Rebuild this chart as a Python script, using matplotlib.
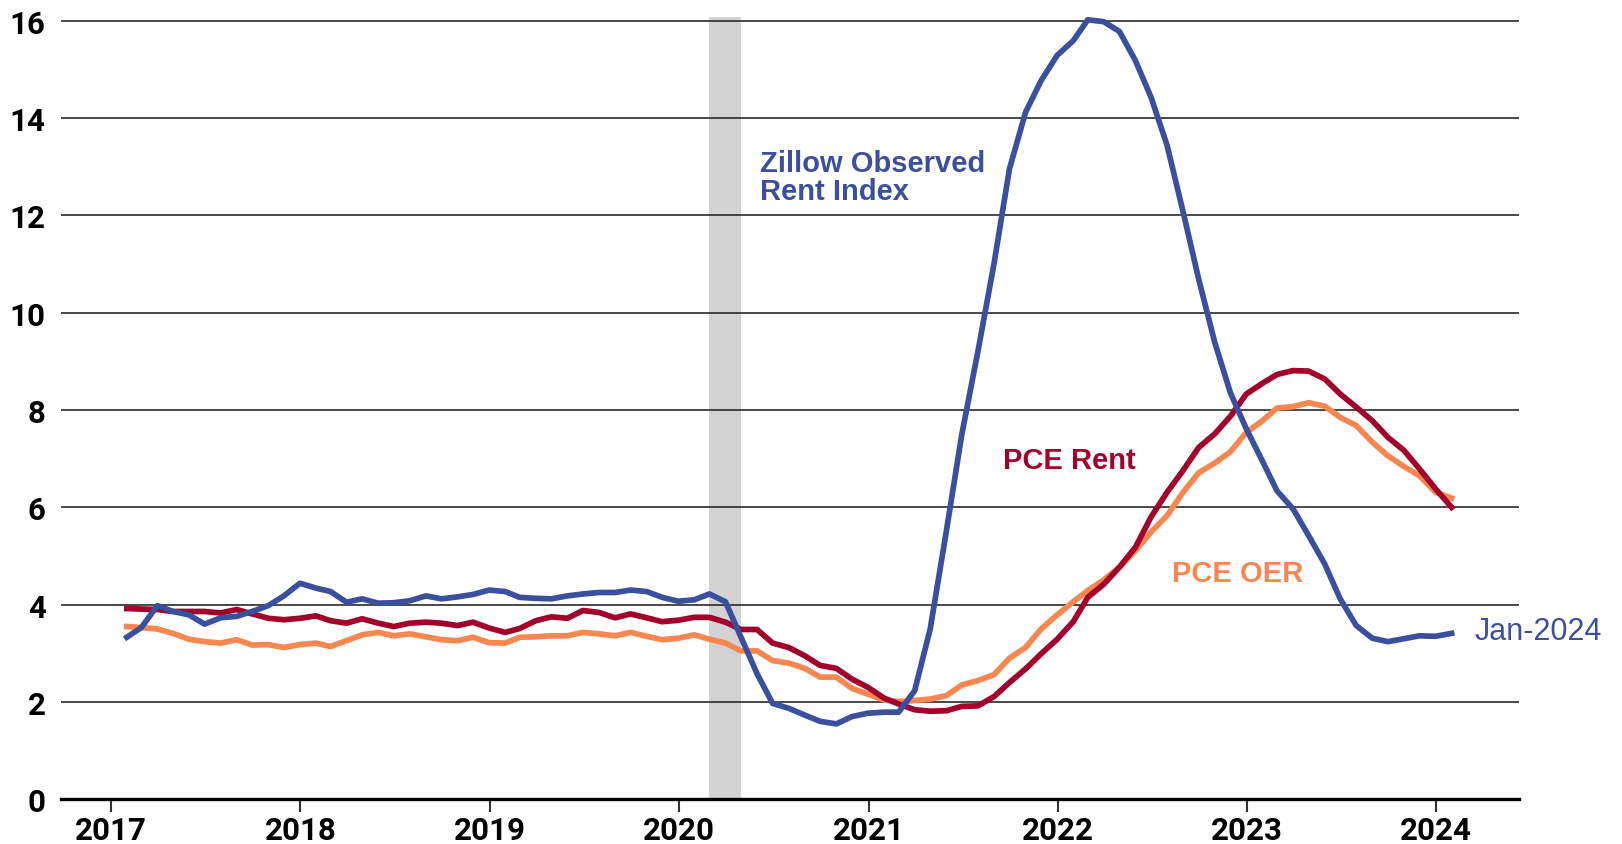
import matplotlib
matplotlib.use('Agg')
import matplotlib.pyplot as plt
import matplotlib.dates as mdates
import pandas as pd

# monthly year-over-year % change, Jan 2017 .. Jan 2024
months = pd.date_range('2017-01-31', '2024-01-31', freq='ME')

zillow = [3.33, 3.53, 3.98, 3.86, 3.79, 3.60, 3.73, 3.76, 3.86, 3.98, 4.18, 4.44,
          4.34, 4.27, 4.05, 4.12, 4.03, 4.04, 4.08, 4.18, 4.12, 4.16, 4.21, 4.30,
          4.27, 4.15, 4.13, 4.12, 4.18, 4.22, 4.25, 4.25, 4.30, 4.27, 4.15, 4.07,
          4.10, 4.22, 4.06, 3.33, 2.58, 1.97, 1.87, 1.73, 1.60, 1.55, 1.70, 1.77,
          1.79, 1.79, 2.23, 3.50, 5.50, 7.50, 9.20, 11.00, 12.96, 14.12, 14.77, 15.29,
          15.59, 16.02, 15.98, 15.78, 15.18, 14.43, 13.44, 12.07, 10.69, 9.39, 8.36, 7.61,
          6.95, 6.34, 5.97, 5.42, 4.84, 4.12, 3.57, 3.31, 3.24, 3.30, 3.36, 3.35,
          3.41]

pce_rent = [3.92, 3.91, 3.90, 3.86, 3.86, 3.86, 3.83, 3.90, 3.81, 3.72, 3.69, 3.72,
            3.77, 3.67, 3.62, 3.71, 3.62, 3.55, 3.62, 3.64, 3.62, 3.57, 3.64, 3.52,
            3.43, 3.51, 3.67, 3.75, 3.72, 3.88, 3.84, 3.73, 3.81, 3.73, 3.65, 3.68,
            3.74, 3.74, 3.64, 3.49, 3.49, 3.21, 3.12, 2.95, 2.75, 2.69, 2.47, 2.30,
            2.08, 1.96, 1.84, 1.81, 1.82, 1.91, 1.92, 2.11, 2.40, 2.68, 2.99, 3.29,
            3.65, 4.15, 4.42, 4.77, 5.18, 5.80, 6.31, 6.76, 7.23, 7.51, 7.87, 8.33,
            8.55, 8.73, 8.81, 8.80, 8.64, 8.33, 8.06, 7.78, 7.44, 7.17, 6.79, 6.38,
            6.00]

pce_oer = [3.55, 3.53, 3.50, 3.41, 3.29, 3.24, 3.21, 3.28, 3.17, 3.18, 3.12, 3.18,
           3.21, 3.14, 3.26, 3.38, 3.43, 3.36, 3.40, 3.34, 3.28, 3.26, 3.33, 3.22,
           3.21, 3.33, 3.34, 3.36, 3.36, 3.43, 3.40, 3.36, 3.43, 3.35, 3.28, 3.31,
           3.38, 3.29, 3.21, 3.05, 3.05, 2.85, 2.80, 2.69, 2.51, 2.51, 2.28, 2.16,
           2.04, 2.01, 2.03, 2.06, 2.13, 2.35, 2.44, 2.56, 2.90, 3.12, 3.50, 3.79,
           4.06, 4.29, 4.51, 4.77, 5.11, 5.49, 5.83, 6.31, 6.71, 6.91, 7.14, 7.54,
           7.78, 8.04, 8.07, 8.15, 8.08, 7.85, 7.68, 7.34, 7.06, 6.84, 6.65, 6.31,
           6.19]

recession = (pd.Timestamp('2020-02-29'), pd.Timestamp('2020-04-30'))

BLUE = '#3a4f9e'
RED = '#a3002a'
ORANGE = '#f7864f'

fig = plt.figure(figsize=(16.22, 8.45), dpi=100)
ax = fig.add_axes([0.0376, 0.0529, 0.8989, 0.9254])

ax.axvspan(recession[0], recession[1], color='#d3d3d3', lw=0, zorder=0.2)

ax.plot(months, pce_oer, color=ORANGE, lw=4.1, zorder=3)
ax.plot(months, pce_rent, color=RED, lw=4.1, zorder=4)
ax.plot(months, zillow, color=BLUE, lw=4.1, zorder=5)

ax.set_ylim(0, 16.07)
ax.set_xlim(pd.Timestamp('2016-09-26'), pd.Timestamp('2024-06-09'))
ax.set_yticks(range(0, 17, 2))
ax.xaxis.set_major_locator(mdates.YearLocator())
ax.xaxis.set_major_formatter(mdates.DateFormatter('%Y'))

ax.set_axisbelow(True)
ax.grid(axis='y', color='#2a2a2a', lw=1.2)
for s in ['top', 'right', 'left']:
    ax.spines[s].set_visible(False)
ax.spines['bottom'].set_linewidth(2.4)
ax.spines['bottom'].set_zorder(6)

ax.tick_params(axis='y', length=0, pad=11)
ax.tick_params(axis='x', length=9.5, width=1.5, color='#333333', pad=1.5)
for lab in ax.get_xticklabels() + ax.get_yticklabels():
    lab.set_fontfamily('Roboto')
    lab.set_fontweight('bold')
    lab.set_fontsize(22.5)

ax.text(pd.Timestamp('2020-06-05'), 12.34, 'Zillow Observed\nRent Index', color=BLUE,
        fontsize=21, fontweight='bold', family='Liberation Sans', va='baseline',
        linespacing=1.0)
ax.text(pd.Timestamp('2021-09-17'), 6.81, 'PCE Rent', color=RED, fontsize=21,
        fontweight='bold', family='Liberation Sans', va='baseline')
ax.text(pd.Timestamp('2022-08-10'), 4.49, 'PCE OER', color=ORANGE, fontsize=21,
        fontweight='bold', family='Liberation Sans', va='baseline')
ax.text(pd.Timestamp('2024-03-15'), 3.29, 'Jan-2024', color=BLUE, fontsize=22,
        family='Liberation Sans', va='baseline')

fig.savefig('out.png', dpi=100)
